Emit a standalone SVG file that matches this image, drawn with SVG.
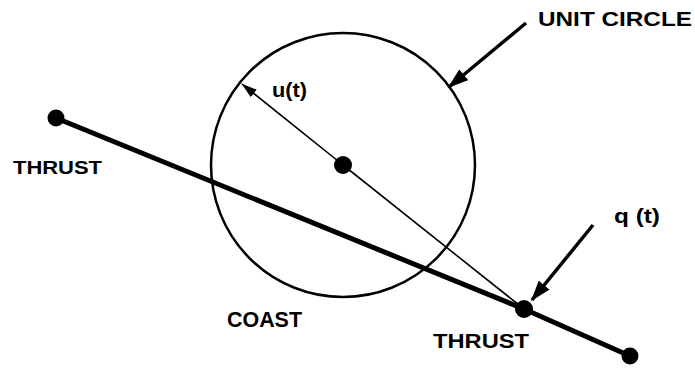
<svg xmlns="http://www.w3.org/2000/svg" width="695" height="368" viewBox="0 0 695 368">
<style>
.lbl{font-family:"Liberation Sans",Arial,sans-serif;font-weight:bold;fill:#000}
.thin{stroke:#000;stroke-width:1.6;fill:none}
.thick{stroke:#000;stroke-width:5;fill:none;stroke-linecap:round}
.ptr{stroke:#000;stroke-width:3.5;fill:none}
.dot{fill:#000}
</style>
<defs>
<marker id="ah" markerWidth="6" markerHeight="4" refX="5.5" refY="2" orient="auto" markerUnits="strokeWidth">
<path d="M0,0 L6,2 L0,4 Z" fill="#000"/>
</marker>
<marker id="sa" markerWidth="10" markerHeight="6" refX="9.5" refY="3" orient="auto" markerUnits="strokeWidth">
<path d="M0,0 L10,3 L0,6 Z" fill="#000"/>
</marker>
</defs>
<g id="unit-circle">
<circle cx="343" cy="165" r="132" fill="none" stroke="#000" stroke-width="2.5"/>
</g>
<g id="connectors">
<line class="thin" x1="343" y1="165" x2="524" y2="309"/>
<line class="thin" x1="343" y1="165" x2="242" y2="84" marker-end="url(#sa)"/>
<polyline class="thick" points="56,118 524,309 630,356"/>
<line class="ptr" x1="526" y1="23" x2="449" y2="87" marker-end="url(#ah)"/>
<line class="ptr" x1="593" y1="225" x2="532" y2="300" marker-end="url(#ah)"/>
</g>
<g id="center"><circle class="dot" cx="343" cy="165" r="9"/></g>
<g id="start"><circle class="dot" cx="56" cy="118" r="8.5"/></g>
<g id="q-point"><circle class="dot" cx="524" cy="309" r="9"/></g>
<g id="end"><circle class="dot" cx="630" cy="356" r="8.5"/></g>
<g id="labels">
<text class="lbl" x="538" y="26" textLength="154" lengthAdjust="spacingAndGlyphs" style="font-size:21px">UNIT CIRCLE</text>
<text class="lbl" x="272" y="97" textLength="35" lengthAdjust="spacingAndGlyphs" style="font-size:20px">u(t)</text>
<text class="lbl" x="614" y="223" textLength="46" lengthAdjust="spacingAndGlyphs" style="font-size:20px">q (t)</text>
<text class="lbl" x="13" y="174" textLength="89" lengthAdjust="spacingAndGlyphs" style="font-size:19px">THRUST</text>
<text class="lbl" x="227" y="327" textLength="75" lengthAdjust="spacingAndGlyphs" style="font-size:22px">COAST</text>
<text class="lbl" x="433" y="348" textLength="96" lengthAdjust="spacingAndGlyphs" style="font-size:21px">THRUST</text>
</g>
</svg>
